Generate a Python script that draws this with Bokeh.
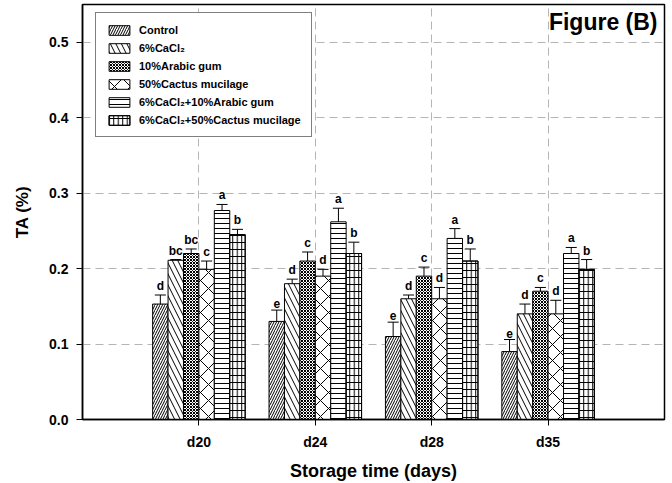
from bokeh.plotting import figure
from bokeh.models import (FixedTicker, Legend, LegendItem, Label, ColumnDataSource)
from bokeh.core.properties import value
from bokeh.embed import file_html
from bokeh.resources import INLINE

# ---------------- data ----------------
categories = ["d20", "d24", "d28", "d35"]
treatments = ["Control", "6%CaCl\u2082", "10%Arabic gum", "50%Cactus mucilage",
              "6%CaCl\u2082+10%Arabic gum", "6%CaCl\u2082+50%Cactus mucilage"]

ta_control = [0.153, 0.130, 0.110, 0.090]
ta_cacl2 = [0.211, 0.180, 0.160, 0.140]
ta_arabic = [0.220, 0.210, 0.190, 0.170]
ta_cactus = [0.199, 0.190, 0.160, 0.140]
ta_cacl2_arabic = [0.277, 0.262, 0.240, 0.220]
ta_cacl2_cactus = [0.245, 0.220, 0.210, 0.199]

sd_control = [0.012, 0.015, 0.019, 0.016]
sd_cacl2 = [0.001, 0.006, 0.005, 0.013]
sd_arabic = [0.006, 0.012, 0.012, 0.005]
sd_cactus = [0.011, 0.009, 0.015, 0.018]
sd_cacl2_arabic = [0.008, 0.018, 0.013, 0.008]
sd_cacl2_cactus = [0.007, 0.015, 0.016, 0.013]

let_control = ["d", "e", "e", "e"]
let_cacl2 = ["bc", "d", "d", "d"]
let_arabic = ["bc", "c", "c", "c"]
let_cactus = ["c", "d", "d", "d"]
let_cacl2_arabic = ["a", "a", "a", "a"]
let_cacl2_cactus = ["b", "b", "b", "b"]

y_ticks = [0.0, 0.1, 0.2, 0.3, 0.4, 0.5]

means = [ta_control, ta_cacl2, ta_arabic, ta_cactus, ta_cacl2_arabic, ta_cacl2_cactus]
sds = [sd_control, sd_cacl2, sd_arabic, sd_cactus, sd_cacl2_arabic, sd_cacl2_cactus]
letters = [let_control, let_cacl2, let_arabic, let_cactus, let_cacl2_arabic, let_cacl2_cactus]

# ---------------- styles ----------------
FONT = "Liberation Sans"
hatch_styles = [
    [dict(hatch_pattern="/", hatch_scale=5)],
    [dict(hatch_pattern="\\", hatch_scale=11)],
    [dict(hatch_pattern="x", hatch_scale=3)],
    [dict(hatch_pattern="x", hatch_scale=16)],
    [dict(hatch_pattern="-", hatch_scale=5)],
    [dict(hatch_pattern="|", hatch_scale=4.5), dict(hatch_pattern="-", hatch_scale=7)],
]

bar_w = 0.1325
cap_w = 0.095

p = figure(width=672, height=483, output_backend="svg", toolbar_location=None,
           x_range=(0, 5), y_range=(0, 0.55),
           min_border_left=82, min_border_right=8, min_border_top=4, min_border_bottom=64)

p.outline_line_color = "black"
p.outline_line_width = 1.5
p.background_fill_color = "white"
p.border_fill_color = "white"

# grid
for g in (p.xgrid, p.ygrid):
    g.grid_line_color = "#b5b5b5"
    g.grid_line_dash = "8 5"
    g.grid_line_width = 1
p.xgrid.ticker = FixedTicker(ticks=[i + 1 for i in range(len(categories))])
p.ygrid.ticker = FixedTicker(ticks=y_ticks[1:])

# axes
p.xaxis.ticker = FixedTicker(ticks=[i + 1 for i in range(len(categories))])
p.xaxis.major_label_overrides = {i + 1: c for i, c in enumerate(categories)}
p.yaxis.ticker = FixedTicker(ticks=y_ticks)
p.yaxis.major_label_overrides = {t: f"{t:.1f}" for t in y_ticks}
for ax in (p.xaxis, p.yaxis):
    ax.axis_line_color = "black"
    ax.axis_line_width = 1.5
    ax.major_tick_line_color = "black"
    ax.major_tick_line_width = 1
    ax.major_tick_out = 6
    ax.major_tick_in = 0
    ax.minor_tick_line_color = None
    ax.major_label_text_font = FONT
    ax.major_label_text_font_style = "bold"
    ax.major_label_text_font_size = "14px"
    ax.major_label_text_color = "black"
    ax.axis_label_text_font = FONT
    ax.axis_label_text_font_style = "bold"
    ax.axis_label_text_color = "black"
p.xaxis.axis_label_text_font_size = "18px"
p.yaxis.axis_label_text_font_size = "17px"
p.xaxis.axis_label = "Storage time (days)"
p.yaxis.axis_label = "TA (%)"
p.xaxis.major_label_standoff = 8
p.yaxis.major_label_standoff = 8
p.xaxis.axis_label_standoff = 8
p.yaxis.axis_label_standoff = 14

legend_items = []
for i, name in enumerate(treatments):
    off = (i - 2.5) * bar_w
    xs = [j + 1 + off for j in range(len(categories))]
    tops = means[i]
    errs = [m + s for m, s in zip(means[i], sds[i])]
    src = ColumnDataSource(dict(x=xs, top=tops, err=errs, lab=letters[i],
                                cl=[x - cap_w / 2 for x in xs], cr=[x + cap_w / 2 for x in xs]))
    rs = []
    for k, hs in enumerate(hatch_styles[i]):
        r = p.vbar(x="x", top="top", bottom=0, width=bar_w, source=src,
                   fill_color="white" if k == 0 else None,
                   line_color="black", line_width=1,
                   hatch_color="black", hatch_weight=1, **hs)
        rs.append(r)
    p.segment(x0="x", y0="top", x1="x", y1="err", source=src, line_color="black", line_width=1)
    p.segment(x0="cl", y0="err", x1="cr", y1="err", source=src, line_color="black", line_width=1)
    p.text(x="x", y="err", text="lab", source=src, text_align="center", text_baseline="bottom",
           y_offset=-2, text_font=value(FONT), text_font_style="bold",
           text_font_size="12px", text_color="black")
    legend_items.append(LegendItem(label=name, renderers=rs))

legend = Legend(items=legend_items, location=(13, 282))
legend.label_text_font = FONT
legend.label_text_font_style = "bold"
legend.label_text_font_size = "11px"
legend.label_text_color = "black"
legend.glyph_width = 26
legend.glyph_height = 12
legend.label_height = 13
legend.label_standoff = 7
legend.spacing = 5
legend.padding = 10
legend.margin = 0
legend.border_line_color = "black"
legend.border_line_width = 1
legend.background_fill_color = "white"
legend.background_fill_alpha = 1
p.add_layout(legend, "center")

p.add_layout(Label(x=4.94, y=0.5265, text="Figure (B)", text_align="right",
                   text_baseline="middle", text_font=FONT, text_font_style="bold",
                   text_font_size="23px", text_color="black"))

open("out.html", "w").write(file_html(p, INLINE))
